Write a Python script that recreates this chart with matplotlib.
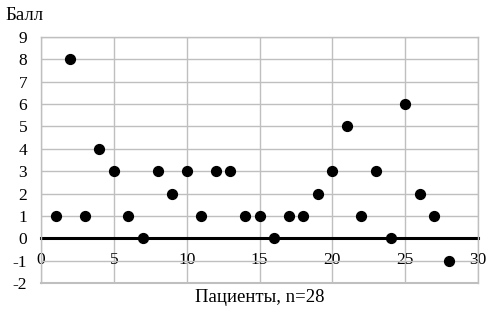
import matplotlib
matplotlib.use("Agg")
import matplotlib.pyplot as plt

patients = list(range(1, 29))
scores = [1, 8, 1, 4, 3, 1, 0, 3, 2, 3, 1, 3, 3, 1, 1, 0, 1, 1, 2, 3, 5, 1, 3, 0, 6, 2, 1, -1]
x_ticks = [0, 5, 10, 15, 20, 25, 30]
y_ticks = list(range(-2, 10))
y_title = "Балл"
x_title = "Пациенты, n=28"

plt.rcParams['font.family'] = ['Liberation Serif', 'DejaVu Serif']
plt.rcParams['axes.unicode_minus'] = False
fig = plt.figure(figsize=(4.88, 3.14), dpi=100)
ax = fig.add_axes([41/488, 1 - 283/314, (478-41)/488, (283-37)/314])

ax.set_xlim(0, 30)
ax.set_ylim(-2, 9)
ax.set_xticks(x_ticks)
ax.set_yticks(y_ticks)
ax.grid(True, color='#bfbfbf', lw=1)
ax.set_axisbelow(True)
for s in ['top', 'right', 'left']:
    ax.spines[s].set_color('#bfbfbf')
    ax.spines[s].set_linewidth(1)
ax.spines['bottom'].set_position(('data', 0))
ax.spines['bottom'].set_color('black')
ax.spines['bottom'].set_linewidth(2.2)
ax.spines['bottom'].set_zorder(1.5)
ax.axhline(-2, color='#bfbfbf', lw=1.5, clip_on=False, zorder=0.5)
ax.tick_params(axis='both', length=0, labelsize=12.5, colors='black')
ax.tick_params(axis='x', pad=10)
ax.tick_params(axis='y', pad=10)

ax.scatter(patients, scores, s=50, color='black', zorder=3, clip_on=False)

fig.text(5/488, 1 - 15/314, y_title, fontsize=13.5, ha='left', va='center')
fig.text(260/488, 1 - 298/314, x_title, fontsize=13.5, ha='center', va='center')

fig.savefig('out.png', dpi=100)
